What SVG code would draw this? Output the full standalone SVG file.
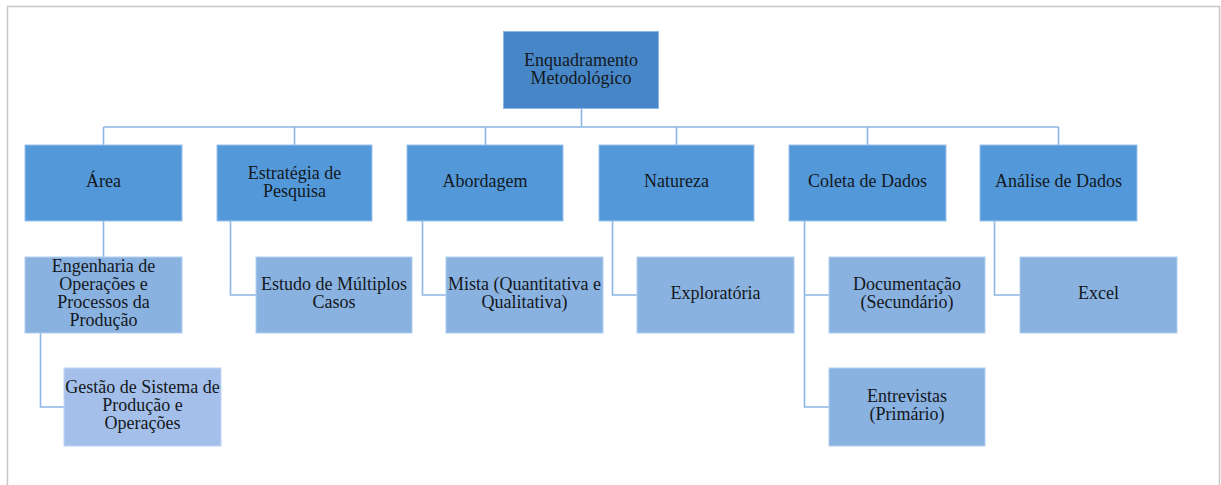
<svg xmlns="http://www.w3.org/2000/svg" width="1221" height="485" viewBox="0 0 1221 485">
  <style>
    .frame { fill: none; stroke: #c6c6c6; stroke-width: 1.5; }
    .link { fill: none; stroke: #8db5e5; stroke-width: 1.6; }
    .n0 rect { fill: #4887c7; stroke: #8fb6e6; stroke-width: 1; }
    .n1 rect { fill: #5399da; stroke: #9cc2ec; stroke-width: 1; }
    .n2 rect { fill: #8ab2e1; stroke: #b2cff0; stroke-width: 1; }
    .n3 rect { fill: #a4c0ea; stroke: #c0d6f3; stroke-width: 1; }
    text { font-family: "Liberation Serif", "Times New Roman", serif; font-size: 18px; fill: #141820; text-anchor: middle; }
  </style>

  <rect x="0" y="0" width="1221" height="485" fill="#ffffff"/>
  <path class="frame" d="M7.5,485 V6.5 H1219.5 V485"/>

  <!-- connectors -->
  <g id="connectors">
    <path class="link" d="M581.5,109 V127" stroke-width="2.4"/>
    <path class="link" d="M103.5,127 H1058.5"/>
    <path class="link" d="M103.5,127 V145 M294.5,127 V145 M485.5,127 V145 M676.5,127 V145 M867.5,127 V145 M1058.5,127 V145"/>
    <!-- Área -> Engenharia -> Gestão -->
    <path class="link" d="M103.5,221 V257" stroke-width="2"/>
    <path class="link" d="M40.5,333 V407 H64"/>
    <!-- Estratégia -> Estudo -->
    <path class="link" d="M230.5,221 V295 H256"/>
    <!-- Abordagem -> Mista -->
    <path class="link" d="M422.5,221 V295 H446"/>
    <!-- Natureza -> Exploratória -->
    <path class="link" d="M612.5,221 V295 H637"/>
    <!-- Coleta -> Documentação, Entrevistas -->
    <path class="link" d="M804.5,221 V407 H829 M804.5,295 H829"/>
    <!-- Análise -> Excel -->
    <path class="link" d="M994.5,221 V295 H1020"/>
  </g>

  <!-- root -->
  <g id="enquadramento" class="n0">
    <rect x="503.5" y="31.5" width="155" height="77"/>
    <text x="581" y="66">Enquadramento</text>
    <text x="581" y="84">Metodológico</text>
  </g>

  <!-- level 1 -->
  <g id="area" class="n1">
    <rect x="25" y="145" width="157" height="76"/>
    <text x="103.5" y="187">Área</text>
  </g>
  <g id="estrategia" class="n1">
    <rect x="217" y="145" width="155" height="76"/>
    <text x="294.5" y="178.5">Estratégia de</text>
    <text x="294.5" y="196.5">Pesquisa</text>
  </g>
  <g id="abordagem" class="n1">
    <rect x="407" y="145" width="156" height="76"/>
    <text x="485" y="187">Abordagem</text>
  </g>
  <g id="natureza" class="n1">
    <rect x="599" y="145" width="155" height="76"/>
    <text x="676.5" y="187">Natureza</text>
  </g>
  <g id="coleta" class="n1">
    <rect x="789" y="145" width="157" height="76"/>
    <text x="867.5" y="187">Coleta de Dados</text>
  </g>
  <g id="analise" class="n1">
    <rect x="980" y="145" width="157" height="76"/>
    <text x="1058.5" y="187">Análise de Dados</text>
  </g>

  <!-- level 2 -->
  <g id="engenharia" class="n2">
    <rect x="25" y="257" width="157" height="76"/>
    <text x="103.5" y="271.5">Engenharia de</text>
    <text x="103.5" y="289.5">Operações e</text>
    <text x="103.5" y="307.5">Processos da</text>
    <text x="103.5" y="325.5">Produção</text>
  </g>
  <g id="estudo" class="n2">
    <rect x="256" y="257" width="156" height="76"/>
    <text x="334" y="290">Estudo de Múltiplos</text>
    <text x="334" y="308">Casos</text>
  </g>
  <g id="mista" class="n2">
    <rect x="446" y="257" width="157" height="76"/>
    <text x="524.5" y="290">Mista (Quantitativa e</text>
    <text x="524.5" y="308">Qualitativa)</text>
  </g>
  <g id="exploratoria" class="n2">
    <rect x="637" y="257" width="157" height="76"/>
    <text x="715.5" y="299">Exploratória</text>
  </g>
  <g id="documentacao" class="n2">
    <rect x="829" y="257" width="156" height="76"/>
    <text x="907" y="290">Documentação</text>
    <text x="907" y="308">(Secundário)</text>
  </g>
  <g id="excel" class="n2">
    <rect x="1020" y="257" width="157" height="76"/>
    <text x="1098.5" y="299">Excel</text>
  </g>

  <!-- level 3 -->
  <g id="gestao" class="n3">
    <rect x="64" y="368" width="157" height="78"/>
    <text x="142.5" y="392.5">Gestão de Sistema de</text>
    <text x="142.5" y="410.5">Produção e</text>
    <text x="142.5" y="428.5">Operações</text>
  </g>
  <g id="entrevistas" class="n2">
    <rect x="829" y="368" width="156" height="78"/>
    <text x="907" y="401.5">Entrevistas</text>
    <text x="907" y="419.5">(Primário)</text>
  </g>
</svg>
